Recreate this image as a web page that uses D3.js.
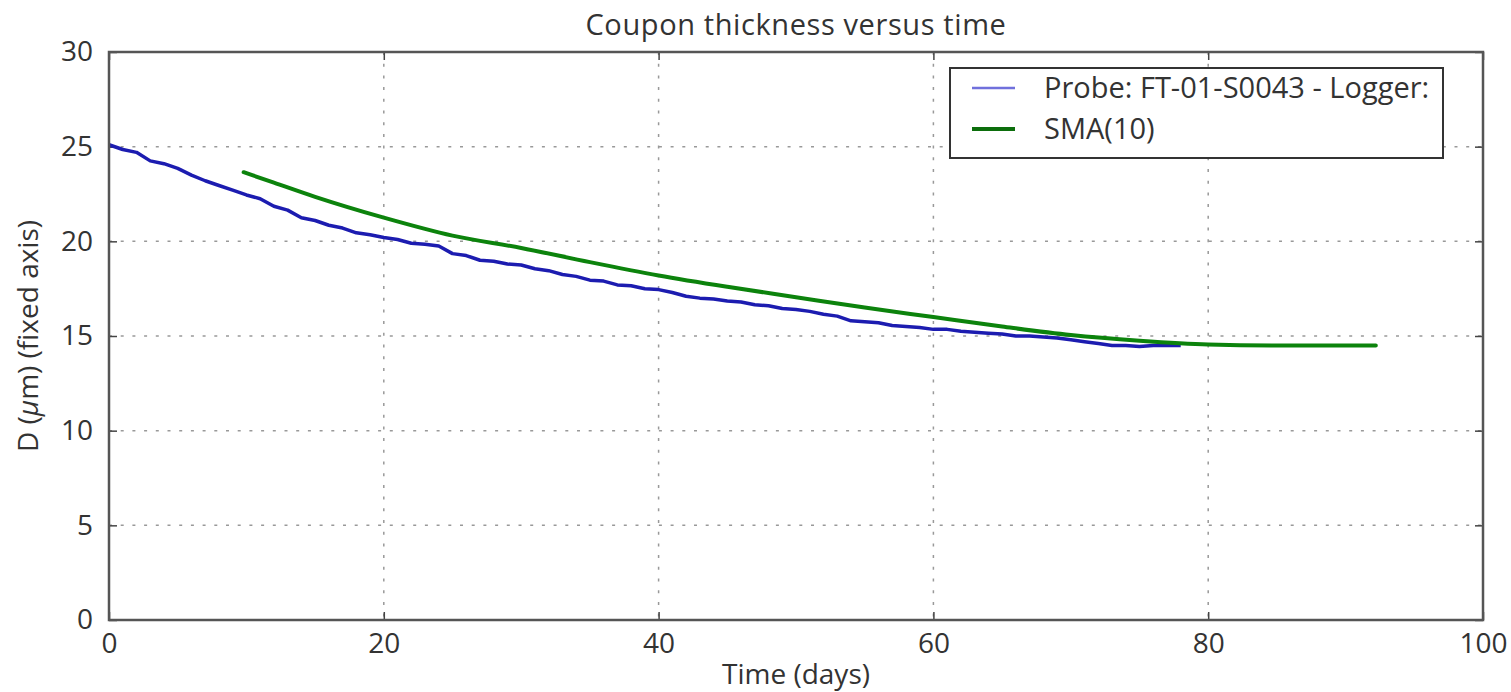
<!DOCTYPE html>
<html>
<head>
<meta charset="utf-8">
<script src="https://cdn.jsdelivr.net/npm/d3@7"></script>
<style>
  body { margin: 0; background: #fff; }
  text { font-family: 'Open Sans', sans-serif; fill: #333; }
</style>
</head>
<body>
<div id="chart"></div>
<script>
// probe readings, one per day
var probeDays = [0, 1, 2, 3, 4, 5, 6, 7, 8, 9, 10, 11, 12, 13, 14, 15, 16, 17, 18, 19,
    20, 21, 22, 23, 24, 25, 26, 27, 28, 29, 30, 31, 32, 33, 34, 35, 36, 37, 38, 39,
    40, 41, 42, 43, 44, 45, 46, 47, 48, 49, 50, 51, 52, 53, 54, 55, 56, 57, 58, 59,
    60, 61, 62, 63, 64, 65, 66, 67, 68, 69, 70, 71, 72, 73, 74, 75, 76, 77, 78];
var probeThickness = [25.1, 24.85, 24.7, 24.25, 24.1, 23.85, 23.5, 23.2, 22.95, 22.7,
    22.45, 22.25, 21.85, 21.65, 21.25, 21.1, 20.85, 20.7, 20.45, 20.35,
    20.2, 20.1, 19.9, 19.85, 19.75, 19.35, 19.25, 19.0, 18.95, 18.8,
    18.75, 18.55, 18.45, 18.25, 18.15, 17.95, 17.9, 17.7, 17.65, 17.5,
    17.45, 17.3, 17.1, 17.0, 16.95, 16.85, 16.8, 16.65, 16.6, 16.45,
    16.4, 16.3, 16.15, 16.05, 15.8, 15.75, 15.7, 15.55, 15.5, 15.45,
    15.35, 15.35, 15.25, 15.2, 15.15, 15.1, 15.0, 15.0, 14.95, 14.9,
    14.8, 14.7, 14.6, 14.5, 14.5, 14.45, 14.5, 14.5, 14.5];

// moving average
var smaDays = [9.8, 12, 15, 20, 25, 30, 35, 40, 45, 50, 55, 60, 65, 70, 75, 80, 85, 92.2];
var smaThickness = [23.65, 23.1, 22.35, 21.25, 20.3, 19.65, 18.9, 18.2, 17.6, 17.05,
    16.5, 16.0, 15.5, 15.05, 14.75, 14.55, 14.5, 14.5];

var xTicks = [0, 20, 40, 60, 80, 100];
var yTicks = [0, 5, 10, 15, 20, 25, 30];

var chart_width = 1511;
var chart_height = 692;
var left = 109, top_ = 52, right = 1483, bottom = 620;

var svg = d3.select('#chart')
    .append('svg')
    .attr('width', chart_width)
    .attr('height', chart_height);

var x_scale = d3.scaleLinear().domain([0, 100]).range([left, right]);
var y_scale = d3.scaleLinear().domain([0, 30]).range([bottom, top_]);

// grid
svg.append('g')
    .selectAll('line')
    .data(xTicks.slice(1, -1))
    .enter()
    .append('line')
    .attr('x1', function (d) { return x_scale(d); })
    .attr('x2', function (d) { return x_scale(d); })
    .attr('y1', top_)
    .attr('y2', bottom)
    .attr('stroke', '#999')
    .attr('stroke-width', 1.5)
    .attr('stroke-dasharray', '3,8.7');

svg.append('g')
    .selectAll('line')
    .data(yTicks.slice(1, -1))
    .enter()
    .append('line')
    .attr('x1', left)
    .attr('x2', right)
    .attr('y1', function (d) { return y_scale(d); })
    .attr('y2', function (d) { return y_scale(d); })
    .attr('stroke', '#999')
    .attr('stroke-width', 1.5)
    .attr('stroke-dasharray', '3,8.7');

// axes, ticks pointing inwards
var x_axis = d3.axisBottom(x_scale).tickValues(xTicks).tickSizeInner(-8).tickSizeOuter(0).tickPadding(13);
var y_axis = d3.axisLeft(y_scale).tickValues(yTicks).tickSizeInner(-8).tickSizeOuter(0).tickPadding(16);
var x_top = d3.axisTop(x_scale).tickValues(xTicks).tickSizeInner(-8).tickSizeOuter(0).tickFormat('');
var y_right = d3.axisRight(y_scale).tickValues(yTicks).tickSizeInner(-8).tickSizeOuter(0).tickFormat('');

function styleAxis(g) {
    g.select('.domain').remove();
    g.selectAll('.tick line').attr('stroke', '#444').attr('stroke-width', 1.5);
    g.selectAll('.tick text')
        .style('font-family', "'Open Sans', sans-serif")
        .style('font-size', '28px')
        .attr('fill', '#333');
}

svg.append('g').attr('transform', 'translate(0,' + bottom + ')').call(x_axis).call(styleAxis);
svg.append('g').attr('transform', 'translate(' + left + ',0)').call(y_axis).call(styleAxis);
svg.append('g').attr('transform', 'translate(0,' + top_ + ')').call(x_top).call(styleAxis);
svg.append('g').attr('transform', 'translate(' + right + ',0)').call(y_right).call(styleAxis);

// lines
var probeLine = d3.line()
    .x(function (d, i) { return x_scale(probeDays[i]); })
    .y(function (d) { return y_scale(d); });

var smaLine = d3.line()
    .curve(d3.curveMonotoneX)
    .x(function (d, i) { return x_scale(smaDays[i]); })
    .y(function (d) { return y_scale(d); });

svg.append('path')
    .datum(probeThickness)
    .attr('d', probeLine)
    .attr('fill', 'none')
    .attr('stroke', '#1c1cb0')
    .attr('stroke-width', 3.5)
    .attr('stroke-linejoin', 'round');

svg.append('path')
    .datum(smaThickness)
    .attr('d', smaLine)
    .attr('fill', 'none')
    .attr('stroke', '#0c830c')
    .attr('stroke-width', 4)
    .attr('stroke-linecap', 'round');

// frame
svg.append('rect')
    .attr('x', left)
    .attr('y', top_)
    .attr('width', right - left)
    .attr('height', bottom - top_)
    .attr('fill', 'none')
    .attr('stroke', '#555')
    .attr('stroke-width', 2.5);

// legend
var legend = svg.append('g');
legend.append('rect')
    .attr('x', 950).attr('y', 68)
    .attr('width', 493).attr('height', 90)
    .attr('fill', '#fff')
    .attr('stroke', '#333')
    .attr('stroke-width', 2);
legend.append('line')
    .attr('x1', 972).attr('x2', 1015).attr('y1', 88).attr('y2', 88)
    .attr('stroke', '#7070dc').attr('stroke-width', 2.5);
legend.append('line')
    .attr('x1', 972).attr('x2', 1015).attr('y1', 129).attr('y2', 129)
    .attr('stroke', '#0c6e0c').attr('stroke-width', 4);
legend.append('text')
    .attr('x', 1044).attr('y', 98)
    .style('font-size', '29px')
    .text('Probe: FT-01-S0043 - Logger:');
legend.append('text')
    .attr('x', 1044).attr('y', 139)
    .style('font-size', '29px')
    .text('SMA(10)');

// titles
svg.append('text')
    .attr('x', (left + right) / 2)
    .attr('y', 35)
    .style('text-anchor', 'middle')
    .style('font-size', '29px')
    .style('letter-spacing', '0.6px')
    .text('Coupon thickness versus time');

svg.append('text')
    .attr('x', (left + right) / 2)
    .attr('y', 684)
    .style('text-anchor', 'middle')
    .style('font-size', '28px')
    .text('Time (days)');

var ylab = svg.append('text')
    .attr('transform', 'translate(38,' + (top_ + bottom) / 2 + ') rotate(-90)')
    .style('text-anchor', 'middle')
    .style('font-size', '28px');
ylab.append('tspan').text('D (');
ylab.append('tspan').style('font-style', 'italic').text('μ');
ylab.append('tspan').text('m) (fixed axis)');
</script>
</body>
</html>
